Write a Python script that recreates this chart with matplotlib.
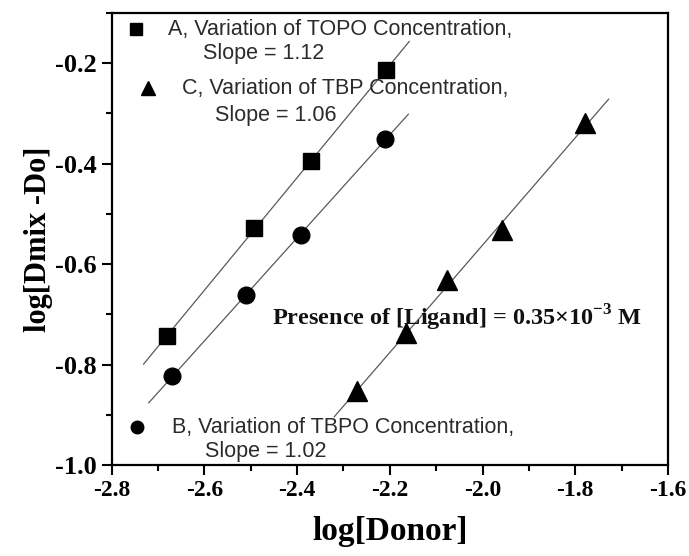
import numpy as np
import matplotlib
matplotlib.use("Agg")
import matplotlib.pyplot as plt
from matplotlib.ticker import MultipleLocator

plt.rcParams["mathtext.fontset"] = "custom"
plt.rcParams["mathtext.rm"] = "Liberation Serif:bold"
plt.rcParams["mathtext.bf"] = "Liberation Serif:bold"

# series A: TOPO (squares)
topo_x = [-2.681, -2.492, -2.369, -2.208]
topo_y = [-0.744, -0.529, -0.394, -0.213]
# series B: TBPO (circles)
tbpo_x = [-2.670, -2.511, -2.391, -2.210]
tbpo_y = [-0.823, -0.662, -0.543, -0.350]
# series C: TBP (triangles)
tbp_x = [-2.270, -2.165, -2.077, -1.958, -1.778]
tbp_y = [-0.853, -0.738, -0.632, -0.533, -0.320]

x_ticks = [-2.8, -2.6, -2.4, -2.2, -2.0, -1.8, -1.6]
y_ticks = [-1.0, -0.8, -0.6, -0.4, -0.2]

legend_labels = [
    ("A, Variation of TOPO Concentration,", "Slope = 1.12"),
    ("C, Variation of TBP Concentration,", "Slope = 1.06"),
    ("B, Variation of TBPO Concentration,", "Slope = 1.02"),
]
note = r"Presence of [Ligand] = 0.35×10$^{-3}$ M"

serif = ["Liberation Serif", "DejaVu Serif"]
sans = ["Liberation Sans", "DejaVu Sans"]
txt_color = "#2b2b2b"

fig = plt.figure(figsize=(6.89, 5.56), dpi=100)
ax = fig.add_axes([0.162, 0.1637, 0.8075, 0.8129])


def fit_line(x, y, ext=0.05):
    slope, icpt = np.polyfit(x, y, 1)
    xs = np.array([min(x) - ext, max(x) + ext])
    ax.plot(xs, slope * xs + icpt, color="#5a5a5a", lw=0.9, zorder=1)


fit_line(topo_x, topo_y)
fit_line(tbpo_x, tbpo_y)
fit_line(tbp_x, tbp_y)

ax.plot(topo_x, topo_y, "s", color="black", ms=12, zorder=3)
ax.plot(tbpo_x, tbpo_y, "o", color="black", ms=12, zorder=3)
ax.plot(tbp_x, tbp_y, "^", color="black", ms=14, zorder=3)

ax.set_xlim(-2.8, -1.6)
ax.set_ylim(-1.0, -0.1)
ax.xaxis.set_minor_locator(MultipleLocator(0.1))
ax.yaxis.set_minor_locator(MultipleLocator(0.1))
ax.set_xticks(x_ticks)
ax.set_yticks(y_ticks)
ax.set_xticklabels([f"{v:.1f}" for v in x_ticks])
ax.set_yticklabels([f"{v:.1f}" for v in y_ticks])
ax.tick_params(which="major", direction="out", length=7, width=1.5)
ax.tick_params(which="minor", direction="out", length=4, width=1.5)
for lab in ax.get_xticklabels():
    lab.set_family(serif)
    lab.set_fontweight("bold")
    lab.set_fontsize(17)
for lab in ax.get_yticklabels():
    lab.set_family(serif)
    lab.set_fontweight("bold")
    lab.set_fontsize(19)
for sp in ax.spines.values():
    sp.set_linewidth(1.6)

ax.set_xlabel("log[Donor]", family=serif, fontweight="bold", fontsize=24, labelpad=11)
ax.set_ylabel("log[Dmix -Do]", family=serif, fontweight="bold", fontsize=22, labelpad=2)

# legend-like annotations
markers = [("s", 8.5, 0.0436, 0.9646, 0.1008, 0.1635, 0.9115),
           ("^", 10, 0.065, 0.834, 0.1259, 0.185, 0.774),
           ("o", 9, 0.0453, 0.084, 0.108, 0.167, 0.029)]
for (m, ms, mx, my, tx, sx, sy), (l1, l2) in zip(markers, legend_labels):
    ax.plot([mx], [my], m, color="black", ms=ms, transform=ax.transAxes, clip_on=False)
    ax.text(tx, my, l1, transform=ax.transAxes, family=sans, fontsize=15.5,
            color=txt_color, va="center", ha="left")
    ax.text(sx, sy, l2, transform=ax.transAxes, family=sans, fontsize=15.5,
            color=txt_color, va="center", ha="left")

ax.text(0.289, 0.325, note, transform=ax.transAxes, family=serif,
        fontweight="bold", fontsize=17.5, va="center", ha="left", color="#111111")

fig.savefig("out.png", dpi=100)
